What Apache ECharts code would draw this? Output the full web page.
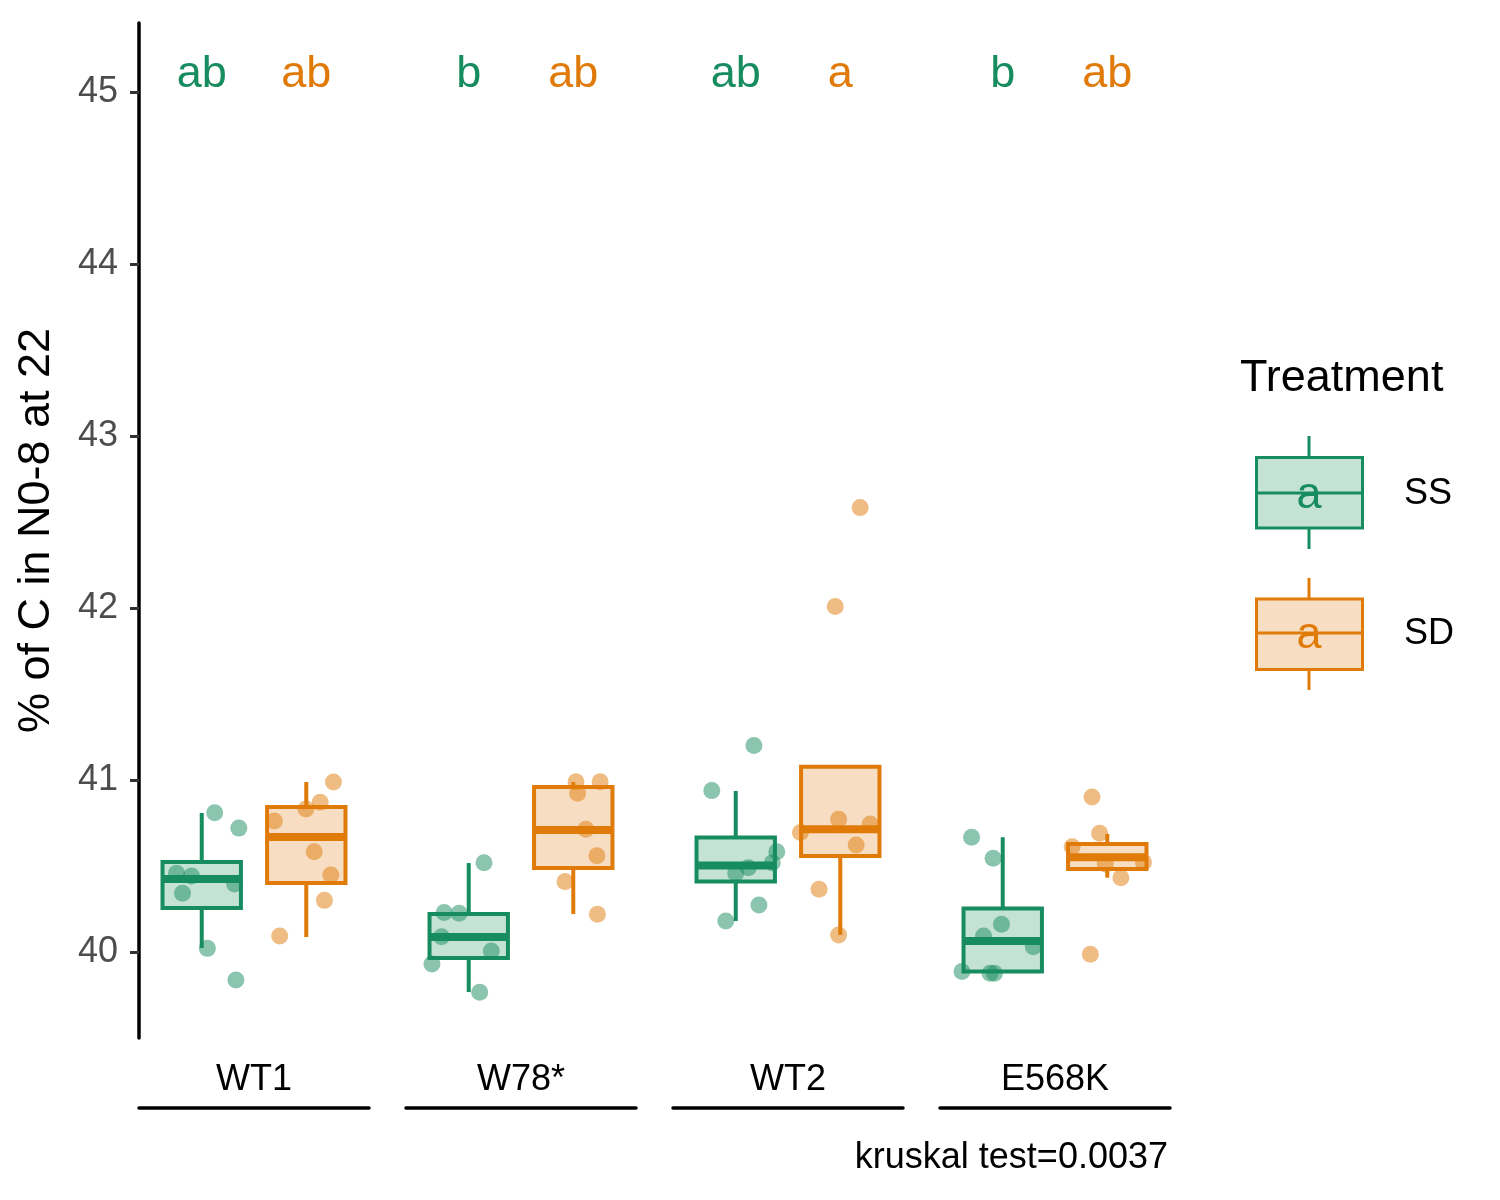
<!DOCTYPE html>
<html><head><meta charset="utf-8">
<script src="https://cdn.jsdelivr.net/npm/echarts@6/dist/echarts.min.js"></script>
<style>html,body{margin:0;padding:0;background:#fff}#c{width:1500px;height:1200px}</style>
</head><body><div id="c"></div>
<script>
// ---------- data ----------
const groups = ['WT1', 'W78*', 'WT2', 'E568K'];
const treatments = ['SS', 'SD'];
const yTicks = [40, 41, 42, 43, 44, 45];
// box stats: [lower whisker, Q1, median, Q3, upper whisker]
const boxSS = [
  [40.023, 40.256, 40.424, 40.523, 40.808],
  [39.767, 39.965, 40.087, 40.221, 40.517],
  [40.180, 40.410, 40.502, 40.666, 40.936],
  [39.887, 39.887, 40.064, 40.253, 40.667]
];
const boxSD = [
  [40.087, 40.401, 40.669, 40.843, 40.988],
  [40.221, 40.488, 40.709, 40.959, 40.988],
  [40.099, 40.558, 40.713, 41.076, 41.076],
  [40.432, 40.483, 40.551, 40.628, 40.686]
];
// jittered observations: [jitter offset, value]
const pointsSS = [
  [[0.124, 40.810], [0.355, 40.720], [-0.241, 40.458], [-0.098, 40.442], [0.314, 40.395], [-0.184, 40.341], [0.054, 40.021], [0.327, 39.837]],
  [[0.146, 40.519], [-0.235, 40.229], [-0.092, 40.225], [-0.260, 40.089], [0.216, 40.006], [-0.352, 39.930], [0.105, 39.766]],
  [[0.174, 41.200], [-0.229, 40.938], [0.393, 40.583], [0.350, 40.519], [0.121, 40.490], [0.000, 40.458], [0.222, 40.273], [-0.095, 40.180]],
  [[-0.298, 40.667], [-0.092, 40.545], [-0.012, 40.161], [-0.184, 40.093], [0.292, 40.031], [-0.390, 39.886], [-0.121, 39.876], [-0.079, 39.876]]
];
const pointsSD = [
  [[0.260, 40.988], [0.133, 40.870], [-0.003, 40.831], [-0.305, 40.762], [0.076, 40.583], [0.235, 40.448], [0.174, 40.300], [-0.254, 40.093]],
  [[0.026, 40.990], [0.257, 40.990], [0.041, 40.923], [0.121, 40.713], [0.226, 40.560], [-0.079, 40.409], [0.231, 40.219]],
  [[0.190, 42.583], [-0.048, 42.008], [-0.381, 40.694], [-0.016, 40.772], [0.286, 40.744], [0.152, 40.622], [-0.203, 40.365], [-0.016, 40.099]],
  [[-0.146, 40.901], [-0.073, 40.690], [-0.336, 40.612], [-0.019, 40.512], [0.346, 40.521], [0.130, 40.432], [-0.162, 39.987]]
];
const lettersSS = ['ab', 'b', 'ab', 'b'];
const lettersSD = ['ab', 'ab', 'a', 'ab'];
const letterY = 45.10;
const yTitle = '% of C in N0-8 at 22';
const legendTitle = 'Treatment';
const footnote = 'kruskal test=0.0037';

// ---------- styling ----------
const FONT = "'Liberation Sans', Arial, Helvetica, sans-serif";
const COL = ['#178C60', '#E07B0A'];
const FILL = ['rgba(23,140,96,0.25)', 'rgba(224,123,10,0.25)'];
const PT = ['rgba(23,140,96,0.5)', 'rgba(224,123,10,0.5)'];

function renderBox(params, api) {
  const x = api.value(0), lo = api.value(1), q1 = api.value(2), med = api.value(3), q3 = api.value(4), hi = api.value(5), t = api.value(6);
  const hw = 0.375;
  const tl = api.coord([x - hw, q3]);
  const br = api.coord([x + hw, q1]);
  const mL = api.coord([x - hw, med]);
  const mR = api.coord([x + hw, med]);
  const pHi = api.coord([x, hi]);
  const pLo = api.coord([x, lo]);
  const c = COL[t];
  return {
    type: 'group', children: [
      { type: 'line', shape: { x1: pHi[0], y1: pHi[1], x2: pHi[0], y2: tl[1] }, style: { stroke: c, lineWidth: 4 } },
      { type: 'line', shape: { x1: pLo[0], y1: br[1], x2: pLo[0], y2: pLo[1] }, style: { stroke: c, lineWidth: 4 } },
      { type: 'rect', shape: { x: tl[0], y: tl[1], width: br[0] - tl[0], height: br[1] - tl[1] }, style: { fill: FILL[t], stroke: c, lineWidth: 4 } },
      { type: 'line', shape: { x1: mL[0], y1: mL[1], x2: mR[0], y2: mR[1] }, style: { stroke: c, lineWidth: 8 } }
    ]
  };
}

function renderLetter(params, api) {
  const t = api.value(2);
  const p = api.coord([api.value(0), api.value(1)]);
  return {
    type: 'text', x: p[0], y: p[1],
    style: { text: (t === 0 ? lettersSS : lettersSD)[api.value(3)], fill: COL[t], font: '45px ' + FONT, textAlign: 'center', textVerticalAlign: 'middle' }
  };
}

const grids = [], xAxes = [], yAxes = [], series = [];
groups.forEach((g, i) => {
  grids.push({ left: 139 + 267 * i, top: 23, width: 230, height: 1015 });
  xAxes.push({
    type: 'value', gridIndex: i, min: 0.4, max: 2.6,
    splitLine: { show: false }, axisTick: { show: false }, axisLabel: { show: false },
    axisLine: { show: true, onZero: false, lineStyle: { color: '#000', width: 3.5 } },
    offset: 70,
    name: g, nameLocation: 'middle', nameGap: -46,
    nameTextStyle: { fontFamily: FONT, fontSize: 36, color: '#000' }
  });
  const yAx = {
    type: 'value', gridIndex: i, min: 39.5, max: 45.4,
    splitLine: { show: false }
  };
  if (i === 0) {
    Object.assign(yAx, {
      axisLine: { show: true, lineStyle: { color: '#000', width: 3.5 } },
      axisTick: { show: true, length: 9, customValues: yTicks, lineStyle: { color: '#333', width: 3 } },
      axisLabel: { show: true, customValues: yTicks, margin: 21, fontFamily: FONT, fontSize: 36, color: '#4D4D4D' },
      name: yTitle, nameLocation: 'middle', nameGap: 80, nameRotate: 90,
      nameTextStyle: { fontFamily: FONT, fontSize: 45, color: '#000' }
    });
  } else {
    Object.assign(yAx, { axisLine: { show: false }, axisTick: { show: false }, axisLabel: { show: false } });
  }
  yAxes.push(yAx);

  const boxes = [boxSS[i], boxSD[i]];
  series.push({
    type: 'custom', xAxisIndex: i, yAxisIndex: i, z: 2,
    renderItem: renderBox,
    encode: { x: 0, y: [1, 2, 3, 4, 5] },
    data: boxes.map((b, t) => [t + 1].concat(b, [t])),
    silent: true
  });
  [pointsSS[i], pointsSD[i]].forEach((pts, t) => {
    series.push({
      type: 'scatter', xAxisIndex: i, yAxisIndex: i, z: 3,
      symbolSize: 17, itemStyle: { color: PT[t], opacity: 1 }, silent: true,
      data: pts.map(p => [t + 1 + p[0], p[1]])
    });
  });
  series.push({
    type: 'custom', xAxisIndex: i, yAxisIndex: i, z: 4, silent: true,
    renderItem: renderLetter,
    encode: { x: 0, y: 1 },
    data: [[1, letterY, 0, i], [2, letterY, 1, i]]
  });
});

// legend (drawn as keys)
const legendKeys = [];
[[457.5, 493, 436, 549], [599, 633, 578, 690]].forEach((k, t) => {
  const top = k[0], h = 70.5;
  legendKeys.push(
    { type: 'line', shape: { x1: 1309, y1: k[2], x2: 1309, y2: top }, style: { stroke: COL[t], lineWidth: 3 } },
    { type: 'line', shape: { x1: 1309, y1: top + h, x2: 1309, y2: k[3] }, style: { stroke: COL[t], lineWidth: 3 } },
    { type: 'rect', shape: { x: 1256.5, y: top, width: 106, height: h }, style: { fill: FILL[t], stroke: COL[t], lineWidth: 3 } },
    { type: 'line', shape: { x1: 1256.5, y1: k[1], x2: 1362.5, y2: k[1] }, style: { stroke: COL[t], lineWidth: 3 } },
    { type: 'text', x: 1309, y: k[1] + 3, style: { text: 'a', fill: COL[t], font: '45px ' + FONT, textAlign: 'center', textVerticalAlign: 'middle' } },
    { type: 'text', x: 1404, y: k[1] + 1, style: { text: treatments[t], fill: '#000', font: '36px ' + FONT, textAlign: 'left', textVerticalAlign: 'middle' } }
  );
});
legendKeys.push(
  { type: 'text', x: 1240, y: 379, style: { text: legendTitle, fill: '#000', font: '45px ' + FONT, textAlign: 'left', textVerticalAlign: 'middle' } },
  { type: 'text', x: 1168, y: 1158, style: { text: footnote, fill: '#000', font: '36px ' + FONT, textAlign: 'right', textVerticalAlign: 'middle' } }
);

const chart = echarts.init(document.getElementById('c'), null, { renderer: 'canvas' });
chart.setOption({
  animation: false,
  backgroundColor: '#fff',
  grid: grids, xAxis: xAxes, yAxis: yAxes, series: series,
  graphic: legendKeys
});
</script></body></html>
